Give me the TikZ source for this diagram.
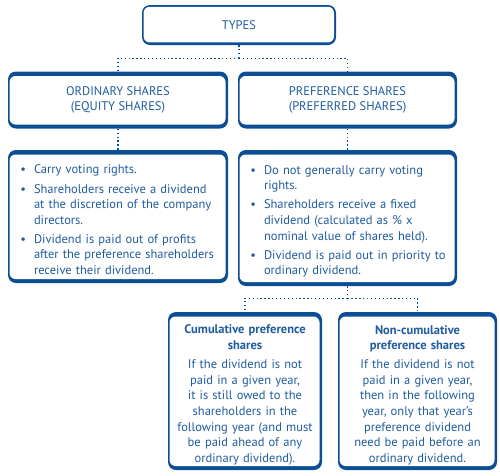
\documentclass[tikz,border=0pt]{standalone}
\usepackage{fontspec}
\setmainfont{PT Sans}
\usepackage{enumitem}
\definecolor{boxblue}{RGB}{12,78,148}
\definecolor{textblue}{RGB}{32,92,160}

\tikzset{
    % boxes with a heavy top and bottom edge
    tabbox/.style={fill=boxblue, rounded corners=8pt, text=textblue,
        inner sep=0pt, align=center,
        path picture={\fill[white, rounded corners=6pt]
            ([xshift=1.5pt,yshift=-4.5pt]path picture bounding box.north west) rectangle
            ([xshift=-2.5pt,yshift=4pt]path picture bounding box.south east);}},
    % top box, even edge
    lightbox/.style={tabbox,
        path picture={\fill[white, rounded corners=6pt]
            ([xshift=1.6pt,yshift=-1.8pt]path picture bounding box.north west) rectangle
            ([xshift=-2pt,yshift=2.6pt]path picture bounding box.south east);}},
    link/.style={boxblue, line width=1.3pt, dash pattern=on 1.3pt off 2.6pt}
}

\newlist{points}{itemize}{1}
\setlist[points]{label=\textbullet, leftmargin=22pt, labelsep=8pt,
    topsep=0pt, partopsep=0pt, parsep=0pt, itemsep=3.5pt, rightmargin=0pt}

\begin{document}
\begin{tikzpicture}[x=1pt, y=-1pt,
    every node/.style={font=\fontsize{12.5}{15.6}\selectfont}]
\useasboundingbox (0,0) rectangle (500,475);

    %========================
    % Top level
    %========================
    \node[lightbox, minimum width=194pt, minimum height=40pt] (types) at (239,25) {TYPES};

    %========================
    % Share classes
    %========================
    \node[tabbox, minimum width=220pt, minimum height=57pt] (ordinary) at (118,100)
        {ORDINARY SHARES\\[-1pt](EQUITY SHARES)};
    \node[tabbox, minimum width=219pt, minimum height=57pt] (preference) at (347.5,100)
        {PREFERENCE SHARES\\[-1pt](PREFERRED SHARES)};

    % Details
    \node[tabbox, minimum width=220pt, minimum height=133pt, text width=212pt, align=left]
        (ordbody) at (118,216.5) {%
        \begin{points}
            \item Carry voting rights.
            \item Shareholders receive a dividend\\at the discretion of the company\\directors.
            \item Dividend is paid out of profits\\after the preference shareholders\\receive their dividend.
        \end{points}};
    \node[tabbox, minimum width=219pt, minimum height=136pt, text width=211pt, align=left]
        (prefbody) at (347.5,218) {%
        \begin{points}
            \item Do not generally carry voting\\rights.
            \item Shareholders receive a fixed\\dividend (calculated as \% x\\nominal value of shares held).
            \item Dividend is paid out in priority to\\ordinary dividend.
        \end{points}};

    %========================
    % Kinds of preference share
    %========================
    \node[tabbox, minimum width=154pt, minimum height=158pt, text width=150pt] (cumul) at (245,391)
        {\rule{0pt}{17pt}\textbf{Cumulative preference}\\\textbf{shares}\\[3.5pt]
         If the dividend is not\\paid in a given year,\\it is still owed to the\\shareholders in the\\
         following year (and must\\be paid ahead of any\\ordinary dividend).};
    \node[tabbox, minimum width=159pt, minimum height=158pt, text width=155pt] (noncum) at (417.5,391)
        {\rule{0pt}{17pt}\textbf{Non-cumulative}\\\textbf{preference shares}\\[3.5pt]
         If the dividend is not\\paid in a given year,\\then in the following\\year, only that year's\\
         preference dividend\\need be paid before an\\ordinary dividend.};

    % Connectors
    \draw[link] (types.south) -- ++(0,13) coordinate (split1);
    \draw[link] (split1) -| (ordinary.north);
    \draw[link] (split1) -| (preference.north);

    \draw[link] (ordinary.south) -- (ordbody.north);
    \draw[link] (preference.south) -- (prefbody.north);

    \draw[link] (prefbody.south) -- ++(0,12) coordinate (split2);
    \draw[link] (split2) -| (cumul.north);
    \draw[link] (split2) -| (noncum.north);

\end{tikzpicture}
\end{document}
